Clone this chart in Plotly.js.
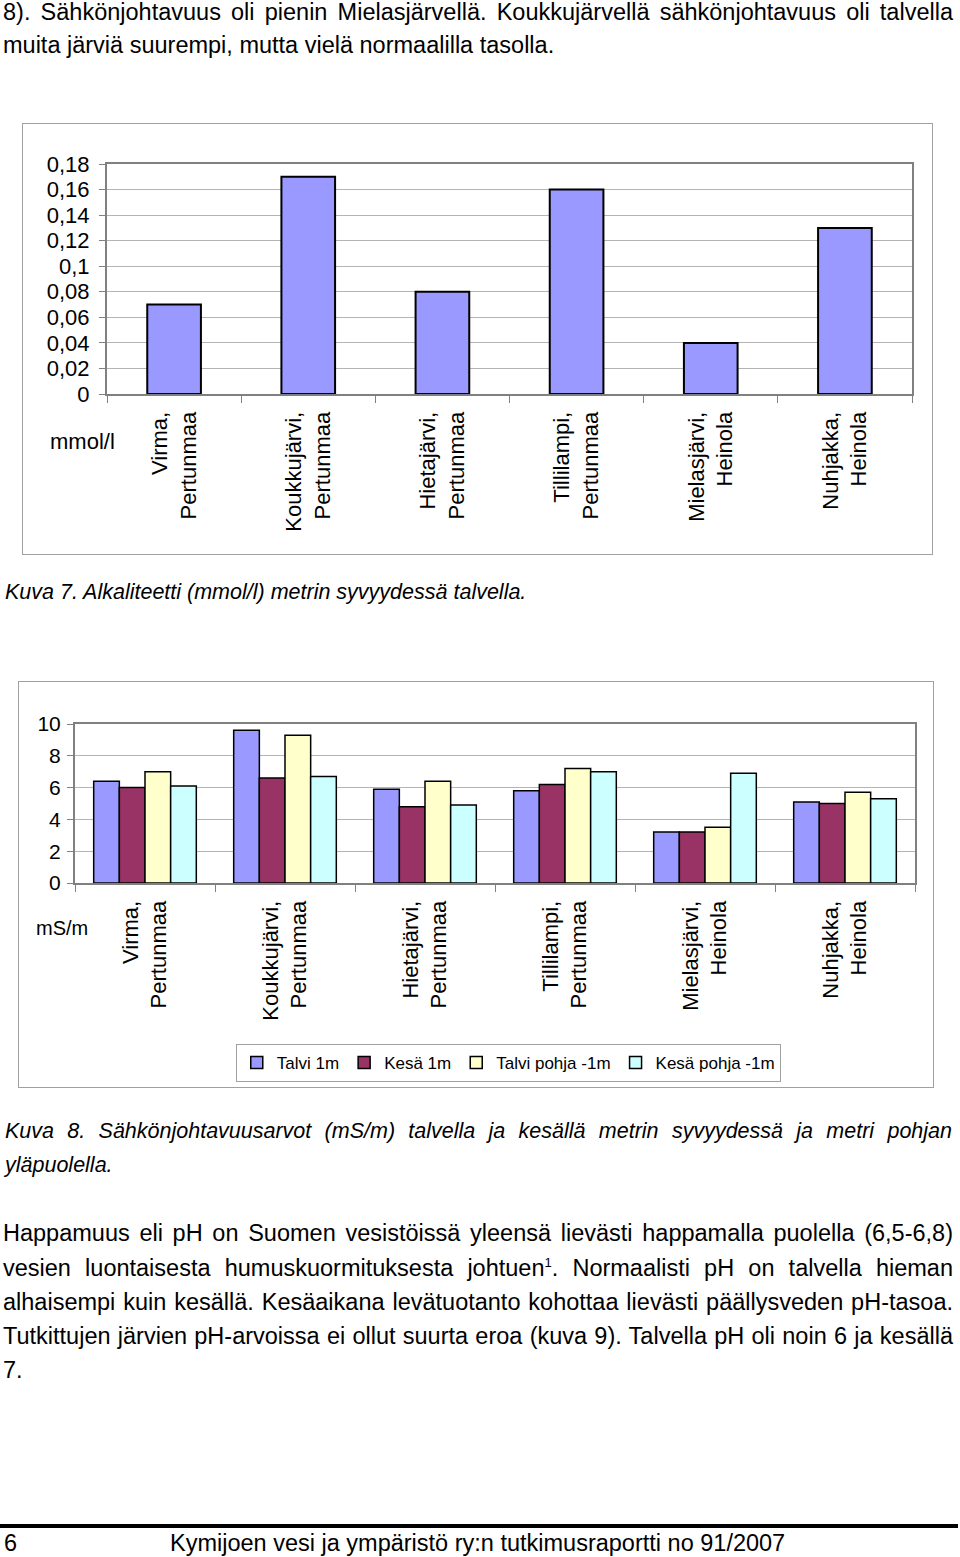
<!DOCTYPE html>
<html>
<head>
<meta charset="utf-8">
<script src="https://cdn.plot.ly/plotly-3.0.1.min.js"></script>
<style>
  html, body { margin: 0; padding: 0; background: #fff; }
  body { width: 960px; height: 1557px; position: relative; overflow: hidden;
         font-family: "Liberation Sans", Arial, sans-serif; color: #000; }
  .ln { position: absolute; left: 3px; width: 950px; white-space: nowrap;
        font-size: 23.5px; line-height: 28px; }
  .cap { font-size: 21.5px; line-height: 26px; font-style: italic; }
  .just { text-align: justify; text-align-last: justify; }
  .frame { position: absolute; border: 1px solid #a0a0a0; box-sizing: border-box; }
  #rule { position: absolute; left: 0; top: 1524px; width: 958px; height: 4px; background: #000; }
</style>
</head>
<body>
<div class="ln just" style="top:-2px;">8). Sähkönjohtavuus oli pienin Mielasjärvellä. Koukkujärvellä sähkönjohtavuus oli talvella</div>
<div class="ln" style="top:31px;">muita järviä suurempi, mutta vielä normaalilla tasolla.</div>

<div id="c1" class="frame" style="left:22px; top:123px; width:911px; height:432px;"></div>

<div class="ln cap" style="top:579px; left:5px;">Kuva 7. Alkaliteetti (mmol/l) metrin syvyydessä talvella.</div>

<div id="c2" class="frame" style="left:18px; top:681px; width:916px; height:407px;"></div>

<div class="ln cap just" style="top:1118px; left:5px; width:947px;">Kuva 8. Sähkönjohtavuusarvot (mS/m) talvella ja kesällä metrin syvyydessä ja metri pohjan</div>
<div class="ln cap" style="top:1152px; left:5px;">yläpuolella.</div>

<div class="ln just" style="top:1219px;">Happamuus eli pH on Suomen vesistöissä yleensä lievästi happamalla puolella (6,5-6,8)</div>
<div class="ln just" style="top:1254px;">vesien luontaisesta humuskuormituksesta johtuen<sup style="font-size:13px; line-height:0;">1</sup>. Normaalisti pH on talvella hieman</div>
<div class="ln just" style="top:1288px;">alhaisempi kuin kesällä. Kesäaikana levätuotanto kohottaa lievästi päällysveden pH-tasoa.</div>
<div class="ln just" style="top:1322px;">Tutkittujen järvien pH-arvoissa ei ollut suurta eroa (kuva 9). Talvella pH oli noin 6 ja kesällä</div>
<div class="ln" style="top:1356px;">7.</div>

<div id="rule"></div>
<div class="ln" style="top:1529px; left:4px;">6</div>
<div class="ln" style="top:1529px; left:170px;">Kymijoen vesi ja ympäristö ry:n tutkimusraportti no 91/2007</div>

<script>
// ---- data ----
const lakes = ['Virma,<br>Pertunmaa', 'Koukkujärvi,<br>Pertunmaa', 'Hietajärvi,<br>Pertunmaa',
               'Tillilampi,<br>Pertunmaa', 'Mielasjärvi,<br>Heinola', 'Nuhjakka,<br>Heinola'];
const alkalinity = [0.07, 0.17, 0.08, 0.16, 0.04, 0.13];
const alkTickVals = [0, 0.02, 0.04, 0.06, 0.08, 0.1, 0.12, 0.14, 0.16, 0.18];
const alkTickText = ['0', '0,02', '0,04', '0,06', '0,08', '0,1', '0,12', '0,14', '0,16', '0,18'];

const seriesNames = ['Talvi 1m', 'Kesä 1m', 'Talvi pohja -1m', 'Kesä pohja -1m'];
const talvi1m    = [6.4, 9.6, 5.9, 5.8, 3.2, 5.1];
const kesa1m     = [6.0, 6.6, 4.8, 6.2, 3.2, 5.0];
const talviPohja = [7.0, 9.3, 6.4, 7.2, 3.5, 5.7];
const kesaPohja  = [6.1, 6.7, 4.9, 7.0, 6.9, 5.3];
const condTickVals = [0, 2, 4, 6, 8, 10];
const condTickText = ['0', '2', '4', '6', '8', '10'];

// ---- styles ----
const FONT = '"Liberation Sans", Arial, sans-serif';
const seriesColors = ['#9999FF', '#993366', '#FFFFCC', '#CCFFFF'];
const config = { staticPlot: true, displayModeBar: false };

function axisX() {
  return {
    type: 'category', tickangle: -90, tickson: 'boundaries',
    ticks: 'outside', ticklen: 7, tickcolor: '#808080', tickwidth: 1,
    showline: true, linecolor: '#808080', linewidth: 2, mirror: true,
    showgrid: false, ticklabelstandoff: 7, automargin: false,
    tickfont: { family: FONT, size: 22, color: '#000' }
  };
}
function axisY(vals, text, max, size, standoff) {
  return {
    range: [0, max], tickvals: vals, ticktext: text,
    ticks: 'outside', ticklen: 6, tickcolor: '#808080',
    showline: true, linecolor: '#808080', linewidth: 2, mirror: true,
    showgrid: true, gridcolor: '#b4b4b4', gridwidth: 1, zeroline: false,
    ticklabelstandoff: standoff, automargin: false,
    tickfont: { family: FONT, size: size, color: '#000' }
  };
}

// ---- chart 1 ----
Plotly.newPlot('c1', [{
  type: 'bar', x: lakes, y: alkalinity,
  marker: { color: seriesColors[0], line: { color: '#000', width: 2 } },
  showlegend: false
}], {
  width: 909, height: 430,
  margin: { l: 84, r: 20, t: 40, b: 160, autoexpand: false },
  paper_bgcolor: '#fff', plot_bgcolor: '#fff',
  font: { family: FONT, size: 22, color: '#000' },
  bargap: 0.6,
  xaxis: axisX(),
  yaxis: axisY(alkTickVals, alkTickText, 0.18, 22, 5),
  annotations: [{
    text: 'mmol/l', xref: 'paper', yref: 'paper', x: -0.031, y: -0.205,
    xanchor: 'center', yanchor: 'middle', showarrow: false,
    font: { family: FONT, size: 22, color: '#000' }
  }]
}, config);

// ---- chart 2 ----
const condSeries = [talvi1m, kesa1m, talviPohja, kesaPohja];
const traces2 = condSeries.map((vals, i) => ({
  type: 'bar', name: seriesNames[i], x: lakes, y: vals,
  marker: { color: seriesColors[i], line: { color: '#000', width: 1.5 } }
}));
Plotly.newPlot('c2', traces2, {
  width: 914, height: 405,
  margin: { l: 56, r: 18, t: 42, b: 204, autoexpand: false },
  paper_bgcolor: '#fff', plot_bgcolor: '#fff',
  font: { family: FONT, size: 21, color: '#000' },
  barmode: 'group', bargap: 0.267, bargroupgap: 0,
  xaxis: axisX(),
  yaxis: axisY(condTickVals, condTickText, 10, 21, 2),
  legend: {
    orientation: 'h', x: 0.1914, xanchor: 'left', y: -1.0125, yanchor: 'top',
    bordercolor: '#a0a0a0', borderwidth: 1, bgcolor: '#fff',
    itemwidth: 30, tracegroupgap: 0,
    font: { family: FONT, size: 17, color: '#000' }
  },
  annotations: [{
    text: 'mS/m', xref: 'paper', yref: 'paper', x: -0.0155, y: -0.286,
    xanchor: 'center', yanchor: 'middle', showarrow: false,
    font: { family: FONT, size: 20, color: '#000' }
  }]
}, config);
</script>
</body>
</html>
